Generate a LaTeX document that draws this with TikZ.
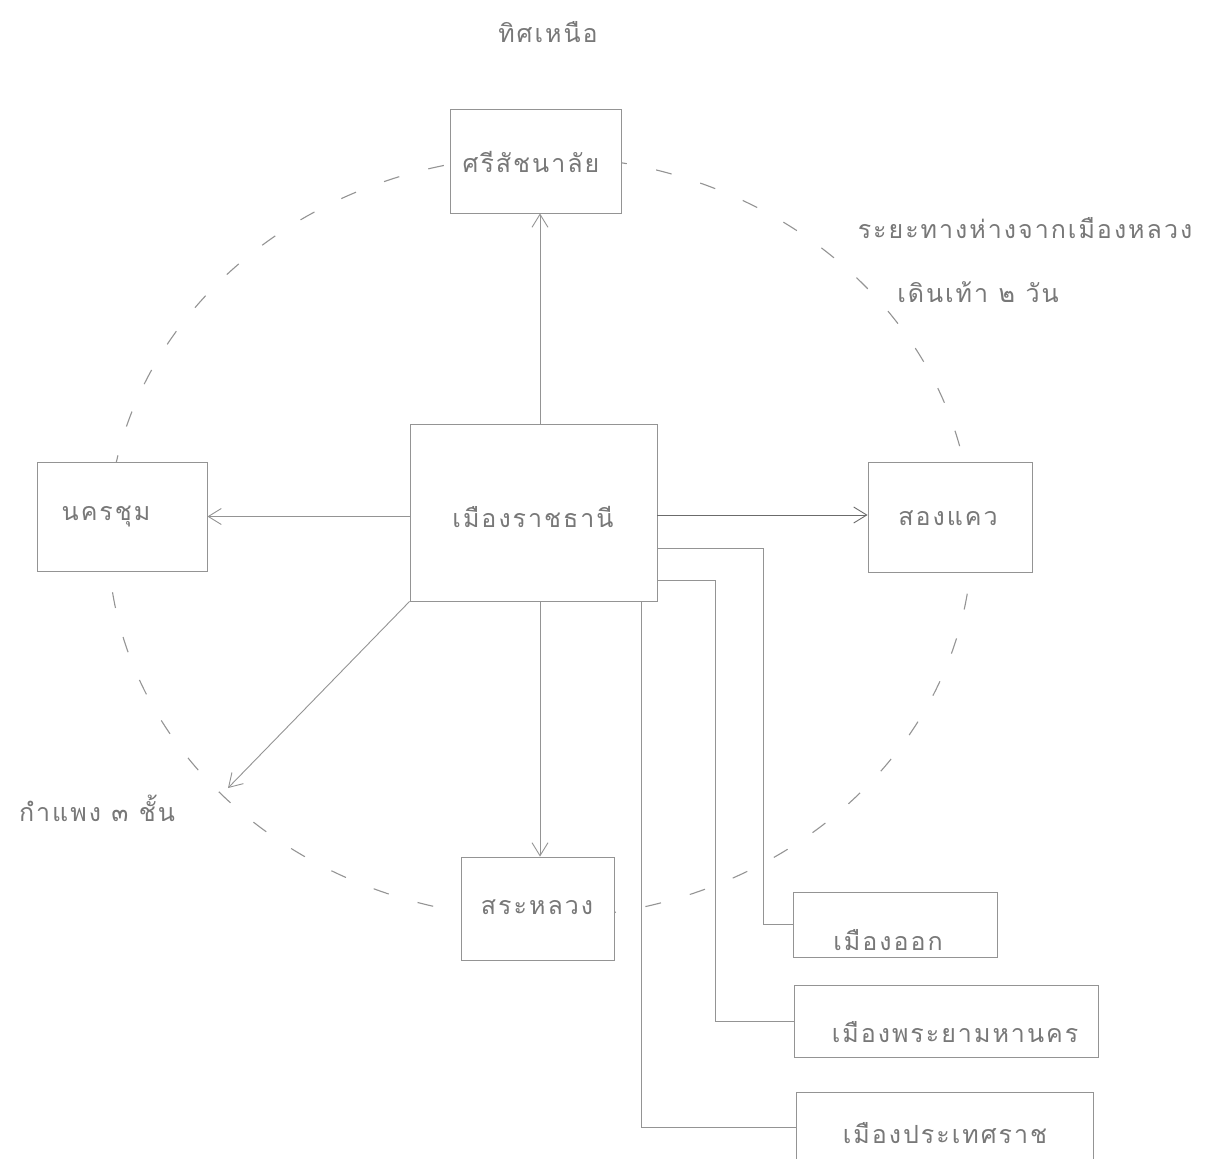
\documentclass[tikz,border=0pt]{standalone}
\usepackage{fontspec}
\newfontfamily\thaifont[Script=Thai,LetterSpace=8]{Loma}
\usetikzlibrary{arrows.meta}
\definecolor{ink}{gray}{0.47}
\definecolor{lineg}{gray}{0.58}
\definecolor{lined}{gray}{0.42}
\tikzset{
  box/.style={draw=lineg, line width=0.9pt, fill=white, inner sep=0pt},
  txt/.style={text=ink, font=\thaifont\fontsize{25}{30}\selectfont, inner sep=0pt},
  ln/.style={draw=lineg, line width=0.9pt},
  arr/.style={ln, -{Straight Barb[length=13pt, width=16pt, line width=0.9pt]}},
  wall/.style={draw=lineg, line width=1.1pt, dash pattern=on 16pt off 30pt}
}
\begin{document}
\begin{tikzpicture}[x=1pt,y=-1pt]
\useasboundingbox[fill=white] (0,0) rectangle (1221,1159);
% city wall (dashed ellipse)
\draw[wall] (540,537) ellipse [x radius=432pt, y radius=381pt];
% boxes
\node[box, minimum width=171pt, minimum height=104pt] (sri) at (535.5,161) {};
\node[box, minimum width=247pt, minimum height=177pt] (c) at (533.5,512.5) {};
\node[box, minimum width=170pt, minimum height=109pt] (nk) at (122,516.5) {};
\node[box, minimum width=164pt, minimum height=110pt] (sk) at (950,517) {};
\node[box, minimum width=153pt, minimum height=103pt] (sl) at (537.5,908.5) {};
\node[box, minimum width=204pt, minimum height=65pt] (o) at (895,924.5) {};
\node[box, minimum width=304pt, minimum height=72pt] (pm) at (946,1021) {};
\node[box, minimum width=297pt, minimum height=70pt] (pt) at (944.5,1127) {};
% texts in boxes
\node[txt] (tsri) at (531,162) {ศรีสัชนาลัย};
\node[txt] (tc) at (533,517) {เมืองราชธานี};
\node[txt] (tnk) at (106,517) {นครชุม};
\node[txt] (tsk) at (948,518) {สองแคว};
\node[txt] (tsl) at (537,907) {สระหลวง};
\node[txt] (to) at (888,940) {เมืองออก};
\node[txt] (tpm) at (955,1032) {เมืองพระยามหานคร};
\node[txt] (tpt) at (945,1133) {เมืองประเทศราช};
% free labels
\node[txt] (north) at (548,32) {ทิศเหนือ};
\node[txt] (dist1) at (1025,228) {ระยะทางห่างจากเมืองหลวง};
\node[txt] (dist2) at (978,292) {เดินเท้า ๒ วัน};
\node[txt] (walls) at (97,808) {กำแพง ๓ ชั้น};
\coordinate (wallend) at (228,788);
% arrows
\draw[arr] (c.north -| 540,0) -- (sri.south -| 540,0);
\draw[arr] (c.west |- nk.east) -- (nk.east);
\draw[arr, draw=lined] (c.east |- 0,515) -- (sk.west |- 0,515);
\draw[arr] (c.south -| 540,0) -- (sl.north -| 540,0);
\draw[arr] (c.south west) -- (wallend);
% plain connectors
\draw[ln] (c.east |- 0,548) -- (763,548) |- (o.west);
\draw[ln] (c.east |- 0,580) -- (715,580) |- (pm.west);
\draw[ln] (c.south -| 641,0) |- (pt.west);
\end{tikzpicture}
\end{document}
